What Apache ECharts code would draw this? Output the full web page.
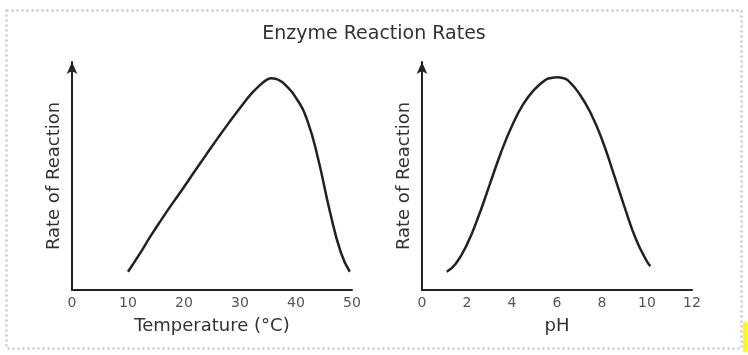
<!DOCTYPE html>
<html>
<head>
<meta charset="utf-8">
<script src="https://cdn.jsdelivr.net/npm/echarts@6/dist/echarts.min.js"></script>
<style>
html,body{margin:0;padding:0;background:#fff;}
#chart{width:748px;height:355px;}
</style>
</head>
<body>
<div id="chart"></div>
<script>
var titleText = 'Enzyme Reaction Rates';
var tempTicks = [0, 10, 20, 30, 40, 50];
var phTicks = [0, 2, 4, 6, 8, 10, 12];
var tempX =    [10, 12,   14,   16, 18,   20,   22,   24,   26,   28,   30,   32, 34,   35,   35.5, 36,   37,   38,   40,   42,   44, 46, 48,   49.6];
var tempRate = [8,  15.5, 23.5, 31, 38.2, 45.2, 52.4, 59.5, 66.5, 73.3, 79.8, 86, 90.8, 92.5, 92.9, 92.8, 92,   90.2, 84.3, 74.5, 57, 35, 16.5, 8];
var phX =    [1.1, 1.5,  2,  2.5, 3,  3.5, 4,  4.5,  5,  5.5,  5.75, 6,    6.25, 6.5,  7,  7.5,  8,  8.5,  9,    9.5,  10,   10.15];
var phRate = [8,   11.5, 20, 32,  46, 60,  72, 81.5, 88, 92.2, 93,   93.3, 93,   91.8, 86, 77.5, 66, 51.5, 36.5, 22.5, 12.5, 10.5];

function zip(a, b) { return a.map(function (v, i) { return [v, b[i]]; }); }

var FONT = 'DejaVu Sans';
var chart = echarts.init(document.getElementById('chart'));

function xAxisCfg(idx, max, interval, name, ticks) {
  return {
    gridIndex: idx, type: 'value', min: 0, max: max, interval: interval,
    name: name, nameLocation: 'middle', nameGap: 27,
    nameTextStyle: {fontFamily: FONT, fontSize: 18, color: '#333'},
    axisLine: {show: true, onZero: false, lineStyle: {color: '#222', width: 2}},
    axisTick: {show: false},
    splitLine: {show: false},
    axisLabel: {fontFamily: FONT, fontSize: 14, color: '#555', margin: 6,
      formatter: function (v) { return ticks.indexOf(v) >= 0 ? String(v) : ''; }}
  };
}
function yAxisCfg(idx) {
  return {
    gridIndex: idx, type: 'value', min: 0, max: 100,
    name: 'Rate of Reaction', nameLocation: 'middle', nameGap: 9,
    nameTextStyle: {fontFamily: FONT, fontSize: 18, color: '#333'},
    axisLine: {show: true, onZero: false, symbol: ['none', 'arrow'], symbolSize: [8, 12],
      lineStyle: {color: '#222', width: 2}},
    axisTick: {show: false}, axisLabel: {show: false}, splitLine: {show: false}
  };
}

chart.setOption({
  animation: false,
  backgroundColor: '#fff',
  title: {text: titleText, left: 'center', top: 20,
    textStyle: {fontFamily: FONT, fontSize: 19, fontWeight: 'normal', color: '#333'}},
  grid: [
    {left: 72, top: 62, width: 280, height: 228},
    {left: 422, top: 62, width: 270, height: 228}
  ],
  xAxis: [
    xAxisCfg(0, 50, 10, 'Temperature (°C)', tempTicks),
    xAxisCfg(1, 12, 2, 'pH', phTicks)
  ],
  yAxis: [yAxisCfg(0), yAxisCfg(1)],
  series: [
    {type: 'line', xAxisIndex: 0, yAxisIndex: 0, data: zip(tempX, tempRate), smooth: 0.5,
      smoothConstraint: false,
      symbol: 'none', lineStyle: {color: '#222', width: 2.5}},
    {type: 'line', xAxisIndex: 1, yAxisIndex: 1, data: zip(phX, phRate), smooth: 0.5,
      smoothConstraint: false,
      symbol: 'none', lineStyle: {color: '#222', width: 2.5}}
  ],
  graphic: [
    {type: 'rect', shape: {x: 6.5, y: 10.5, width: 735, height: 338},
      style: {fill: 'none', stroke: '#bdbdbd', lineWidth: 2, lineDash: [2, 3]}, silent: true},
    {type: 'rect', shape: {x: 743, y: 322, width: 4, height: 30},
      style: {fill: '#ffff00'}, silent: true}
  ]
});
</script>
</body>
</html>
